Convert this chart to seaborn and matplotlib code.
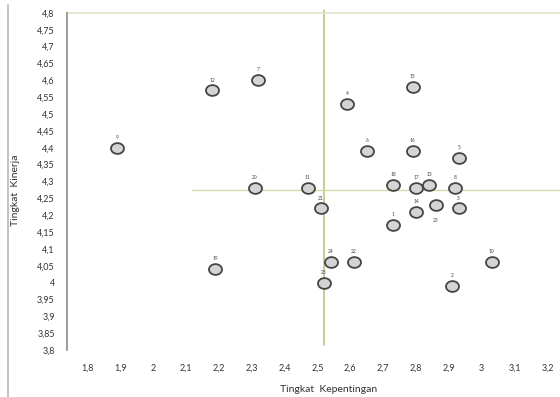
import pandas as pd
import seaborn as sns
from matplotlib import pyplot as plt
from matplotlib.lines import Line2D
from matplotlib.path import Path
from matplotlib.transforms import Affine2D

# Attribute number, importance (x) and performance (y)
labels = ['9', '12', '7', '4', '6', '20', '11', '21', '15', '16', '5', '18', '17',
          '13', '8', '14', '23', '3', '1', '24', '22', '19', '25', '10', '2']
kepentingan = [1.89, 2.18, 2.32, 2.59, 2.65, 2.31, 2.47, 2.51, 2.79, 2.79, 2.93, 2.73, 2.80,
               2.84, 2.92, 2.80, 2.86, 2.93, 2.73, 2.54, 2.61, 2.19, 2.52, 3.03, 2.91]
kinerja = [4.40, 4.57, 4.60, 4.53, 4.39, 4.28, 4.28, 4.22, 4.58, 4.39, 4.37, 4.29, 4.28,
           4.29, 4.28, 4.21, 4.23, 4.22, 4.17, 4.06, 4.06, 4.04, 4.00, 4.06, 3.99]
# label drawn below the point instead of above
below = ['23']

# quadrant lines (means)
x_mean = 2.52
y_mean = 4.275

x_ticks = [1.8, 1.9, 2.0, 2.1, 2.2, 2.3, 2.4, 2.5, 2.6, 2.7, 2.8, 2.9, 3.0, 3.1, 3.2]
x_ticklabels = ['1,8', '1,9', '2', '2,1', '2,2', '2,3', '2,4', '2,5', '2,6', '2,7',
                '2,8', '2,9', '3', '3,1', '3,2']
y_ticks = [3.8 + 0.05 * i for i in range(21)]
y_ticklabels = ['3,8', '3,85', '3,9', '3,95', '4', '4,05', '4,1', '4,15', '4,2', '4,25',
                '4,3', '4,35', '4,4', '4,45', '4,5', '4,55', '4,6', '4,65', '4,7', '4,75', '4,8']

df = pd.DataFrame({'label': labels, 'x': kepentingan, 'y': kinerja})

sns.set_style('white')
plt.rcParams['font.family'] = ['Lato', 'DejaVu Sans']

# slightly wide ellipse like the Excel marker
ellipse = Path.unit_circle().transformed(Affine2D().scale(1.15, 0.95))

fig = plt.figure(figsize=(5.6, 3.97), dpi=100)
ax = fig.add_axes([0.12, 0.1184, 0.88, 0.8489])

# quadrant lines
ax.plot([x_mean, x_mean], [4.81, 3.815], color='#b4c07a', lw=1.1, clip_on=False, zorder=1)
ax.plot([2.12, 3.24], [y_mean, y_mean], color='#d2dcaa', lw=1.0, zorder=1)
ax.plot([1.739, 3.24], [4.8, 4.8], color='#e2e4cc', lw=1.2, clip_on=False, zorder=1)

sns.scatterplot(data=df, x='x', y='y', ax=ax, s=88, color='#d4d4d4', marker=ellipse,
                edgecolor='#454545', linewidth=1.3, zorder=3)

for _, r in df.iterrows():
    dy = -11 if r['label'] in below else 7.5
    ax.annotate(r['label'], (r['x'], r['y']), xytext=(0, dy), textcoords='offset points',
                ha='center', va='center', fontsize=3.5, color='#444444')

ax.set_xlim(1.739, 3.238)
ax.set_ylim(3.8, 4.8)
ax.set_xticks(x_ticks)
ax.set_xticklabels(x_ticklabels)
ax.set_yticks(y_ticks)
ax.set_yticklabels(y_ticklabels)
ax.tick_params(axis='both', length=0, labelsize=6.5, labelcolor='#333333')
ax.tick_params(axis='x', pad=10)
ax.tick_params(axis='y', pad=9)

for s in ['top', 'right', 'bottom']:
    ax.spines[s].set_visible(False)
ax.spines['left'].set_color('#8a8a8a')
ax.spines['left'].set_linewidth(1.2)

ax.set_xlabel('Tingkat  Kepentingan', fontsize=7.5, color='#333333')
ax.set_ylabel('Tingkat  Kinerja', fontsize=7.5, color='#333333')
ax.xaxis.set_label_coords(0.53, -0.104)
ax.yaxis.set_label_coords(-0.095, 0.475)

# chart area border on the left
fig.add_artist(Line2D([8 / 560, 8 / 560], [0, 1 - 5 / 397], color='#b8b8b8', lw=1.2))

fig.savefig('out.png', dpi=100)
